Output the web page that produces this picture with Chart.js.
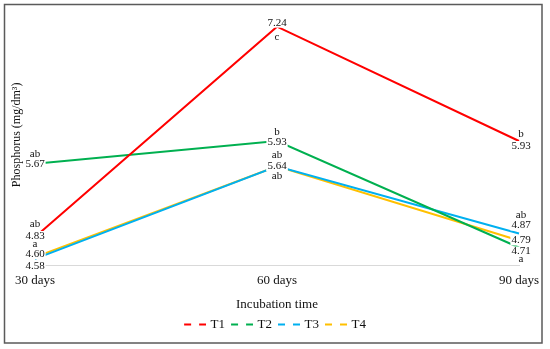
<!DOCTYPE html>
<html>
<head>
<meta charset="utf-8">
<script src="https://cdn.jsdelivr.net/npm/chart.js@4.4.0/dist/chart.umd.min.js"></script>
<style>
  html, body { margin: 0; padding: 0; background: #fff; }
  canvas { display: block; }
</style>
</head>
<body>
<canvas id="chart" width="550" height="349"></canvas>
<script>
// Data
const categories = ['30 days', '60 days', '90 days'];
const seriesNames = ['T1', 'T2', 'T3', 'T4'];
const t1Values = [4.83, 7.24, 5.93];
const t2Values = [5.67, 5.93, 4.71];
const t3Values = [4.58, 5.64, 4.87];
const t4Values = [4.60, 5.64, 4.79];
// significance letters ('' where the figure shows none)
const t1Letters = ['ab', 'c', 'b'];
const t2Letters = ['ab', 'b', 'a'];
const t3Letters = ['', 'ab', 'ab'];
const t4Letters = ['a', 'ab', ''];
const yMin = 4.5;
const yMax = 7.5;

const colors = ['#FF0000', '#00B050', '#00B0F0', '#FFC000'];
const serif = "'Liberation Serif', 'Times New Roman', serif";

// label placement: [value dy, letter dy relative to the value] per point
const labelPlace = [
    [[-1, -12], [-4, 14], [5, -12]],
    [[0, -10], [1, -10], [4, 8]],
    [[7, 0], [0, 10], [-8, -10]],
    [[-3, -10], [0, -11], [0, 0]]
];
const labelDx = [0, 0, 2];

// legend sample: two short dashes (a bit wider than the box so the text sits close)
function dashSample(color) {
    const c = document.createElement('canvas');
    c.width = 24; c.height = 3;
    const g = c.getContext('2d');
    g.fillStyle = color;
    g.fillRect(2, 0.5, 7, 2);
    g.fillRect(17, 0.5, 7, 2);
    return c;
}

const frame = {
    id: 'frame',
    afterDraw(chart) {
        const ctx = chart.ctx;
        ctx.save();
        ctx.strokeStyle = '#5a5a5a';
        ctx.lineWidth = 1.5;
        ctx.strokeRect(4.5, 4.5, 537.5, 338.5);
        ctx.restore();
    }
};

const pointLabels = {
    id: 'pointLabels',
    afterDatasetsDraw(chart) {
        const ctx = chart.ctx;
        const xs = chart.scales.x, ys = chart.scales.y;
        const letters = [t1Letters, t2Letters, t3Letters, t4Letters];
        ctx.save();
        ctx.font = '11px ' + serif;
        ctx.textAlign = 'center';
        ctx.textBaseline = 'middle';
        const put = (txt, x, y) => {
            if (!txt) return;
            const w = ctx.measureText(txt).width;
            ctx.fillStyle = '#fff';
            ctx.fillRect(x - w / 2 - 1, y - 5, w + 2, 10);
            ctx.fillStyle = '#111';
            ctx.fillText(txt, x, y);
        };
        chart.data.datasets.forEach((ds, i) => {
            ds.data.forEach((v, j) => {
                const x = xs.getPixelForValue(j) + labelDx[j];
                const y = ys.getPixelForValue(v) + labelPlace[i][j][0];
                put(v.toFixed(2), x, y);
                put(letters[i][j], x, y + labelPlace[i][j][1]);
            });
        });
        ctx.restore();
    }
};

const allValues = [t1Values, t2Values, t3Values, t4Values];

new Chart(document.getElementById('chart'), {
    type: 'line',
    data: {
        labels: categories,
        datasets: seriesNames.map((name, i) => ({
            label: name,
            data: allValues[i],
            borderColor: colors[i],
            backgroundColor: colors[i],
            borderWidth: 2,
            pointRadius: 0,
            tension: 0,
            pointStyle: dashSample(colors[i])
        }))
    },
    options: {
        responsive: false,
        animation: false,
        devicePixelRatio: 1,
        layout: { padding: { left: 0, right: 0, top: 4, bottom: 8 } },
        plugins: {
            tooltip: { enabled: false },
            legend: {
                position: 'bottom',
                labels: {
                    usePointStyle: true,
                    pointStyleWidth: 20,
                    padding: 6,
                    color: '#111',
                    font: { family: serif, size: 13 }
                }
            }
        },
        scales: {
            x: {
                offset: false,
                grid: { display: false, tickLength: 0 },
                border: { color: '#d9d9d9', width: 1 },
                ticks: { color: '#111', padding: 7, font: { family: serif, size: 13 } },
                title: {
                    display: true,
                    text: 'Incubation time',
                    color: '#111',
                    padding: { top: 1, bottom: 0 },
                    font: { family: serif, size: 13 }
                }
            },
            y: {
                min: yMin,
                max: yMax,
                grid: { display: false },
                border: { display: false },
                ticks: { display: false },
                title: {
                    display: true,
                    text: 'Phosphorus (mg/dm\u00B3)',
                    color: '#111',
                    padding: { top: 10, bottom: 0 },
                    font: { family: serif, size: 12 }
                },
                afterFit(scale) { scale.width = 35; }
            },
            // empty right-hand strip so the plot ends where the figure's does
            yRight: {
                position: 'right',
                min: yMin,
                max: yMax,
                grid: { display: false },
                border: { display: false },
                ticks: { display: false },
                afterFit(scale) { scale.width = 31; }
            }
        }
    },
    plugins: [pointLabels, frame]
});
</script>
</body>
</html>
